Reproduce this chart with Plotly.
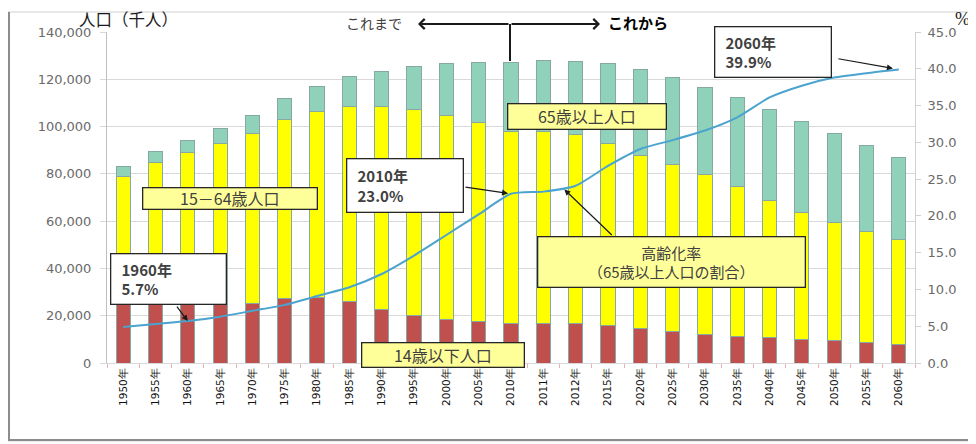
import plotly.graph_objects as go

years = ["1950年", "1955年", "1960年", "1965年", "1970年", "1975年", "1980年", "1985年",
         "1990年", "1995年", "2000年", "2005年", "2010年", "2011年", "2012年", "2015年",
         "2020年", "2025年", "2030年", "2035年", "2040年", "2045年", "2050年", "2055年", "2060年"]
under15 = [29428, 30123, 28434, 25529, 25153, 27221, 27507, 26033, 22486, 20014, 18472, 17521,
           16803, 16705, 16547, 15827, 14568, 13240, 12039, 11287, 10732, 10116, 9387, 8614, 7912]
age15_64 = [49658, 54729, 60469, 67444, 72119, 75807, 78835, 82506, 85904, 87165, 86220, 84092,
            81032, 81342, 80175, 76818, 73408, 70845, 67730, 63430, 57866, 53531, 50013, 47063, 44183]
over65 = [4155, 4786, 5398, 6236, 7393, 8865, 10647, 12468, 14895, 18261, 22005, 25672,
          29246, 29752, 30793, 33952, 36124, 36573, 36849, 37407, 38678, 38564, 37676, 36257, 34642]
aging_rate = [4.9, 5.3, 5.7, 6.3, 7.1, 7.9, 9.1, 10.3, 12.1, 14.6, 17.4, 20.2,
              23.0, 23.3, 24.1, 26.8, 29.1, 30.3, 31.6, 33.4, 36.1, 37.7, 38.8, 39.4, 39.9]

# page body has an 8px margin: figure drawn at window offset (8, 8)
OFF = 8
W, H = 968, 436
L, R, T, B = 99, 61, 24, 81
PW, PH = W - L - R, H - T - B


def px(x):
    """window x pixel -> paper x"""
    return (x - OFF - L) / PW


def py(y):
    """window y pixel -> paper y"""
    return (H - B - (y - OFF)) / PH


CJK = "Noto Sans CJK JP"
edge = dict(color="#86A9A6", width=1)

fig = go.Figure()
fig.add_trace(go.Bar(x=years, y=under15, name="14歳以下人口", marker=dict(color="#C0504D", line=edge)))
fig.add_trace(go.Bar(x=years, y=age15_64, name="15－64歳人口", marker=dict(color="#FFFF00", line=edge)))
fig.add_trace(go.Bar(x=years, y=over65, name="65歳以上人口", marker=dict(color="#8FD1B9", line=edge)))
fig.add_trace(go.Scatter(x=years, y=aging_rate, yaxis="y2", mode="lines", name="高齢化率",
                         line=dict(color="#4BA3CF", width=2, shape="spline", smoothing=0.6)))

annotations = []


def box(text, cx, cy, w, h, bg, align="center", size=14, weight="normal", color="#404040"):
    annotations.append(dict(text=text, xref="paper", yref="paper", x=px(cx), y=py(cy),
                            xanchor="center", yanchor="middle", showarrow=False,
                            width=w - 2, height=h - 2, bgcolor=bg, bordercolor="#262626",
                            borderwidth=1.3, borderpad=0, align=align,
                            font=dict(family=CJK, size=size, color=color, weight=weight)))


def arrow(x, y, ax, ay, xref="x", yref="y2", head=2, width=1.2, size=1.0, standoff=0):
    annotations.append(dict(text="", x=x, y=y, xref=xref, yref=yref, ax=ax, ay=ay,
                            showarrow=True, arrowhead=head, arrowwidth=width, arrowsize=size,
                            arrowcolor="#1a1a1a", standoff=standoff))


NB = "\u00a0"
box("65歳以上人口", 587, 116, 159, 26, "#FFFF99", size=16)
box("15－64歳人口", 230, 198, 175, 22, "#FFFF99", size=16)
box("14歳以下人口", 443, 355, 163, 25, "#FFFF99", size=16)
box("高齢化率<br>（65歳以上人口の割合）", 671, 262, 268, 51, "#FFFF99", size=15)
box(NB * 3 + "1960年<br>" + NB * 3 + "5.7%", 168, 279, 116, 51, "#FFFFFF", align="left", size=15, weight="bold")
box(NB * 3 + "2010年<br>" + NB * 3 + "23.0%", 405, 185, 117, 54, "#FFFFFF", align="left", size=15, weight="bold")
box(NB * 3 + "2060年<br>" + NB * 3 + "39.9%", 773, 52, 117, 51, "#FFFFFF", align="left", size=15, weight="bold")

arrow("1960年", 5.7, -12, -16)
arrow("2010年", 23.0, -47, -7, standoff=3)
arrow("2060年", 39.9, -62, -11, standoff=6)
arrow(13.65, 23.6, 49, 47)

# top "これまで ← | → これから"
arrow(px(418), py(24), 92, 0, xref="paper", yref="paper", head=4, width=2.2, size=0.9)
arrow(px(600), py(24), -90, 0, xref="paper", yref="paper", head=4, width=2.2, size=0.9)
annotations.append(dict(text="これまで", xref="paper", yref="paper", x=px(374), y=py(23),
                        xanchor="center", yanchor="middle", showarrow=False,
                        font=dict(family=CJK, size=14, color="#404040")))
annotations.append(dict(text="これから", xref="paper", yref="paper", x=px(638), y=py(23),
                        xanchor="center", yanchor="middle", showarrow=False,
                        font=dict(family=CJK, size=15, color="#000000", weight="bold")))
annotations.append(dict(text="人口（千人）", xref="paper", yref="paper", x=px(128), y=py(19),
                        xanchor="center", yanchor="middle", showarrow=False,
                        font=dict(family=CJK, size=16.5, color="#1a1a1a")))
annotations.append(dict(text="%", xref="paper", yref="paper", x=px(962), y=py(19),
                        xanchor="center", yanchor="middle", showarrow=False,
                        font=dict(family="Liberation Serif", size=18, color="#1a1a1a")))

shapes = [
    dict(type="line", xref="paper", yref="paper", x0=px(510), x1=px(510), y0=py(24), y1=py(61),
         line=dict(color="#1a1a1a", width=2)),
    dict(type="rect", xref="paper", yref="paper", x0=px(8), x1=px(975), y0=py(441), y1=py(12),
         line=dict(color="#D0D0D0", width=1)),
    dict(type="line", xref="paper", yref="paper", x0=px(9), x1=px(9), y0=py(441), y1=py(12),
         line=dict(color="#8C8C8C", width=2)),
    dict(type="line", xref="paper", yref="paper", x0=px(8), x1=px(975), y0=py(440), y1=py(440),
         line=dict(color="#8C8C8C", width=2)),
]

tickfont = dict(family="DejaVu Sans", size=13, color="#6A6A6A")
fig.update_layout(
    width=W, height=H, margin=dict(l=L, r=R, t=T, b=B),
    paper_bgcolor="white", plot_bgcolor="white",
    barmode="stack", bargap=0.56, showlegend=False,
    xaxis=dict(type="category", tickangle=-90, tickfont=dict(family="DejaVu Sans", size=10.5, color="#111111"),
               showline=True, linecolor="#D9D9D9", ticks="outside", tickson="boundaries",
               ticklen=4, tickcolor="#E3B5B5", showgrid=False),
    yaxis=dict(range=[0, 140000], dtick=20000, tickformat=",", tickfont=tickfont,
               showgrid=True, gridcolor="#D9D9D9", gridwidth=1, zeroline=False,
               showline=True, linecolor="#BFBFBF", ticks="outside", ticklen=6, tickcolor="#D9D9D9",
               ticklabelstandoff=6),
    yaxis2=dict(range=[0, 45], dtick=5, tickformat=".1f", overlaying="y", side="right",
                tickfont=tickfont, showgrid=False, zeroline=False, showline=True,
                linecolor="#D0D0D0", ticks="outside", ticklen=5, tickcolor="#D0D0D0",
                ticklabelstandoff=4),
    annotations=annotations, shapes=shapes,
)

fig.write_html("out.html")
